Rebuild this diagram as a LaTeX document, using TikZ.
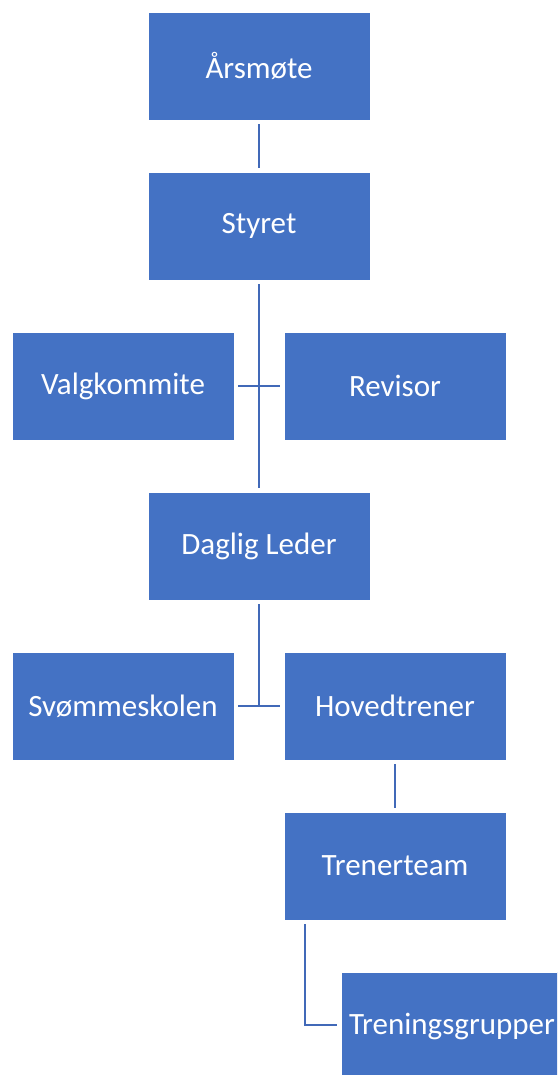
\documentclass[tikz,border=0pt]{standalone}
\usepackage{fontspec}
\setmainfont{Carlito}
\definecolor{boxblue}{HTML}{4472C4}
\definecolor{lineblue}{HTML}{4169B8}
\begin{document}
\begin{tikzpicture}[x=1pt,y=-1pt,
  orgbox/.style={fill=boxblue,draw=white,line width=0.8pt,minimum width=222pt,minimum height=108pt,inner sep=0pt,text=white,font=\fontsize{31}{36}\selectfont},
  conn/.style={draw=lineblue,line width=2.2pt}]
\useasboundingbox (0,0) rectangle (557,1075);
\clip (0,0) rectangle (557,1075);
\fill[white] (0,0) rectangle (557,1075);
\node[orgbox] (arsmote) at (259,66) {Årsmøte};
\node[orgbox] (styret) at (259,226) {Styret};
\node[orgbox] (valg) at (123,386) {Valgkommite};
\node[orgbox] (revisor) at (395,386) {Revisor};
\node[orgbox] (daglig) at (259,546) {Daglig Leder};
\node[orgbox] (svom) at (123,706) {Svømmeskolen};
\node[orgbox] (hoved) at (395,706) {Hovedtrener};
\node[orgbox] (trener) at (395,866) {Trenerteam};
\node[orgbox] (grupper) at (452,1026) {Treningsgrupper};
\coordinate (tt) at (305,920);
\coordinate (corner) at (305,1025);
\draw[conn,shorten <=4pt,shorten >=4pt] (arsmote.south) -- (styret.north);
\draw[conn,shorten <=4pt,shorten >=4pt] (styret.south) -- (daglig.north);
\draw[conn,shorten <=4pt,shorten >=4pt] (valg.east) -- (revisor.west);
\draw[conn,shorten <=4pt] (daglig.south) -- (daglig.south |- svom.east);
\draw[conn,shorten <=4pt,shorten >=4pt] (svom.east) -- (hoved.west);
\draw[conn,shorten <=4pt,shorten >=4pt] (hoved.south) -- (trener.north);
\draw[conn,shorten <=4pt,shorten >=4pt] (tt) -- (corner) -- (corner -| grupper.west);
\end{tikzpicture}
\end{document}
